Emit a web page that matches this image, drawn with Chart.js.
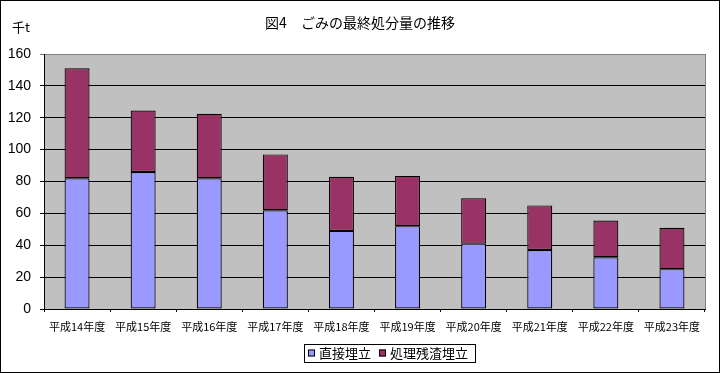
<!DOCTYPE html>
<html>
<head>
<meta charset="utf-8">
<script src="https://cdn.jsdelivr.net/npm/chart.js@4"></script>
<style>
html,body{margin:0;padding:0;background:#fff;}
canvas{display:block;}
</style>
</head>
<body>
<canvas id="c" width="720" height="373"></canvas>
<script>
const categories = ['平成14年度','平成15年度','平成16年度','平成17年度','平成18年度','平成19年度','平成20年度','平成21年度','平成22年度','平成23年度'];
const directLandfill = [82, 86, 82, 62, 49, 52, 41, 37, 32.5, 25];
const residueLandfill = [69, 38.5, 40.5, 35, 34, 31.5, 28.5, 28, 23, 26];
const seriesNames = ['直接埋立', '処理残渣埋立'];
const titleText = '図4　ごみの最終処分量の推移';
const unitText = '千t';

const JP = '"Noto Sans CJK JP", sans-serif';

const decor = {
  id: 'decor',
  beforeDraw(chart) {
    const ctx = chart.ctx, a = chart.chartArea;
    ctx.save();
    ctx.fillStyle = '#fff';
    ctx.fillRect(0, 0, chart.width, chart.height);
    ctx.fillStyle = '#C0C0C0';
    ctx.fillRect(a.left, a.top, a.right - a.left, a.bottom - a.top);
    ctx.restore();
  },
  afterDraw(chart) {
    const ctx = chart.ctx, a = chart.chartArea;
    ctx.save();
    ctx.strokeStyle = '#808080';
    ctx.lineWidth = 1;
    ctx.beginPath();
    ctx.moveTo(Math.round(a.right) + 0.5, a.top);
    ctx.lineTo(Math.round(a.right) + 0.5, a.bottom);
    ctx.stroke();
    ctx.strokeStyle = '#000';
    ctx.strokeRect(0.5, 0.5, chart.width - 1, chart.height - 1);
    ctx.fillStyle = '#000';
    ctx.font = '14px ' + JP;
    ctx.textAlign = 'center';
    ctx.textBaseline = 'middle';
    ctx.fillText(titleText, 360, 23);
    ctx.font = '13px ' + JP;
    ctx.textAlign = 'left';
    ctx.fillText(unitText, 12, 27);
    const ds = chart.data.datasets;
    ctx.font = '13px ' + JP;
    let x = 308;
    const cy = 353;
    const boxL = 304, boxT = 344, boxB = 362;
    ds.forEach((d, i) => {
      ctx.fillStyle = d.backgroundColor;
      ctx.fillRect(x, cy - 3.5, 7, 7);
      ctx.strokeStyle = '#000';
      ctx.lineWidth = 1;
      ctx.strokeRect(x + 0.5, cy - 3.5 + 0.5, 6, 6);
      x += 11;
      ctx.fillStyle = '#000';
      ctx.textAlign = 'left';
      ctx.fillText(d.label, x, cy + 0.5);
      x += ctx.measureText(d.label).width + (i < ds.length - 1 ? 8 : 0);
    });
    ctx.strokeStyle = '#000';
    ctx.strokeRect(boxL + 0.5, boxT + 0.5, Math.round(x + 7 - boxL), boxB - boxT);
    ctx.restore();
  }
};

new Chart(document.getElementById('c'), {
  type: 'bar',
  data: {
    labels: categories,
    datasets: [
      { label: seriesNames[0], data: directLandfill, backgroundColor: '#9999FF', borderColor: '#000', borderWidth: 1.2, borderSkipped: false },
      { label: seriesNames[1], data: residueLandfill, backgroundColor: '#993366', borderColor: '#000', borderWidth: 1.2, borderSkipped: false }
    ]
  },
  options: {
    responsive: false,
    animation: false,
    devicePixelRatio: 1,
    layout: { padding: { left: 0, right: 15, top: 54, bottom: 0 } },
    plugins: { legend: { display: false }, title: { display: false }, tooltip: { enabled: false } },
    datasets: { bar: { barPercentage: 0.378, categoryPercentage: 1 } },
    scales: {
      x: {
        stacked: true,
        afterFit(s) { s.height = 64; },
        grid: { display: true, offset: true, drawOnChartArea: false, drawTicks: true, tickLength: 3, color: '#000' },
        border: { display: true, color: '#000', width: 1 },
        ticks: { color: '#000', font: { family: JP, size: 11 }, padding: 8, maxRotation: 0, autoSkip: false }
      },
      y: {
        stacked: true,
        min: 0, max: 160,
        afterFit(s) { s.width = 44; },
        grid: {
          color: (c) => (c.tick && c.tick.value === 160) ? '#808080' : '#000',
          lineWidth: 1,
          drawTicks: true,
          tickLength: 4
        },
        border: { display: true, color: '#000', width: 1 },
        ticks: { stepSize: 20, color: '#000', font: { family: '"Liberation Sans", Arial, sans-serif', size: 14 }, padding: 9 }
      }
    }
  },
  plugins: [decor]
});
</script>
</body>
</html>
